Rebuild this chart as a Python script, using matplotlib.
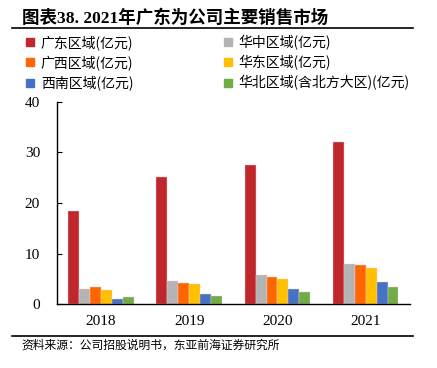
import matplotlib
matplotlib.use('Agg')
import matplotlib.pyplot as plt
from matplotlib.lines import Line2D
import numpy as np

plt.rcParams['font.family'] = ['Liberation Serif', 'Noto Sans CJK SC', 'DejaVu Sans']

years = ['2018', '2019', '2020', '2021']
series_names = ['广东区域(亿元)', '华中区域(亿元)', '广西区域(亿元)',
                '华东区域(亿元)', '西南区域(亿元)', '华北区域(含北方大区)(亿元)']
guangdong = [18.5, 25.2, 27.6, 32.0]
huazhong = [3.0, 4.7, 5.7, 7.9]
guangxi = [3.4, 4.3, 5.4, 7.7]
huadong = [2.8, 4.1, 5.1, 7.2]
xinan = [1.1, 2.0, 3.0, 4.4]
huabei = [1.4, 1.6, 2.5, 3.4]
colors = ['#C0272D', '#B4B4B4', '#FF6600', '#FFC000', '#4472C4', '#70AD47']

fig = plt.figure(figsize=(4.37, 3.68), dpi=100)
ax = fig.add_axes([0.1297, 0.173, 0.8083, 0.5505])

values = [guangdong, huazhong, guangxi, huadong, xinan, huabei]
x = np.arange(len(years))
w = 0.74 / len(values)
for i, (vals, c) in enumerate(zip(values, colors)):
    ax.bar(x - 0.37 + w * (i + 0.5), vals, w, color=c,
           edgecolor='#f3c9cb', linewidth=0.3)

ax.set_xlim(-0.5, 3.5)
ax.set_ylim(0, 40)
ax.set_yticks([0, 10, 20, 30, 40])
ax.set_xticks(x)
ax.set_xticklabels(years)
ax.tick_params(axis='y', direction='in', length=3.5, width=0.8,
               labelsize=11, pad=12)
ax.tick_params(axis='x', length=0, labelsize=11, pad=8)
for s in ['top', 'right']:
    ax.spines[s].set_visible(False)
for s in ['left', 'bottom']:
    ax.spines[s].set_linewidth(1.0)
    ax.spines[s].set_color('black')

# legend: column-wise fill, left column first
order = [0, 2, 4, 1, 3, 5]
handles = [Line2D([], [], marker='s', linestyle='', markersize=6,
                  color=colors[i]) for i in order]
labels = [series_names[i] for i in order]
fig.legend(handles, labels, ncol=2, loc='upper left',
           bbox_to_anchor=(0.057, 0.905), frameon=False,
           prop={'family': ['Noto Sans CJK SC'], 'size': 10},
           handlelength=0.8, handletextpad=0.35, columnspacing=6.4,
           labelspacing=0.38, borderaxespad=0, borderpad=0)

fig.text(0.05, 0.951, '图表38. 2021年广东为公司主要销售市场',
         fontsize=12.6, fontweight='bold', va='center', ha='left')
fig.add_artist(Line2D([0.027, 0.945], [0.924, 0.924], color='black',
                      linewidth=1.2))
fig.add_artist(Line2D([0.027, 0.945], [0.087, 0.087], color='black',
                      linewidth=1.2))
fig.text(0.05, 0.062, '资料来源：公司招股说明书，东亚前海证券研究所',
         fontsize=8.5, va='center', ha='left',
         family=['Noto Sans CJK SC', 'DejaVu Sans'])

fig.savefig('out.png', dpi=100)
